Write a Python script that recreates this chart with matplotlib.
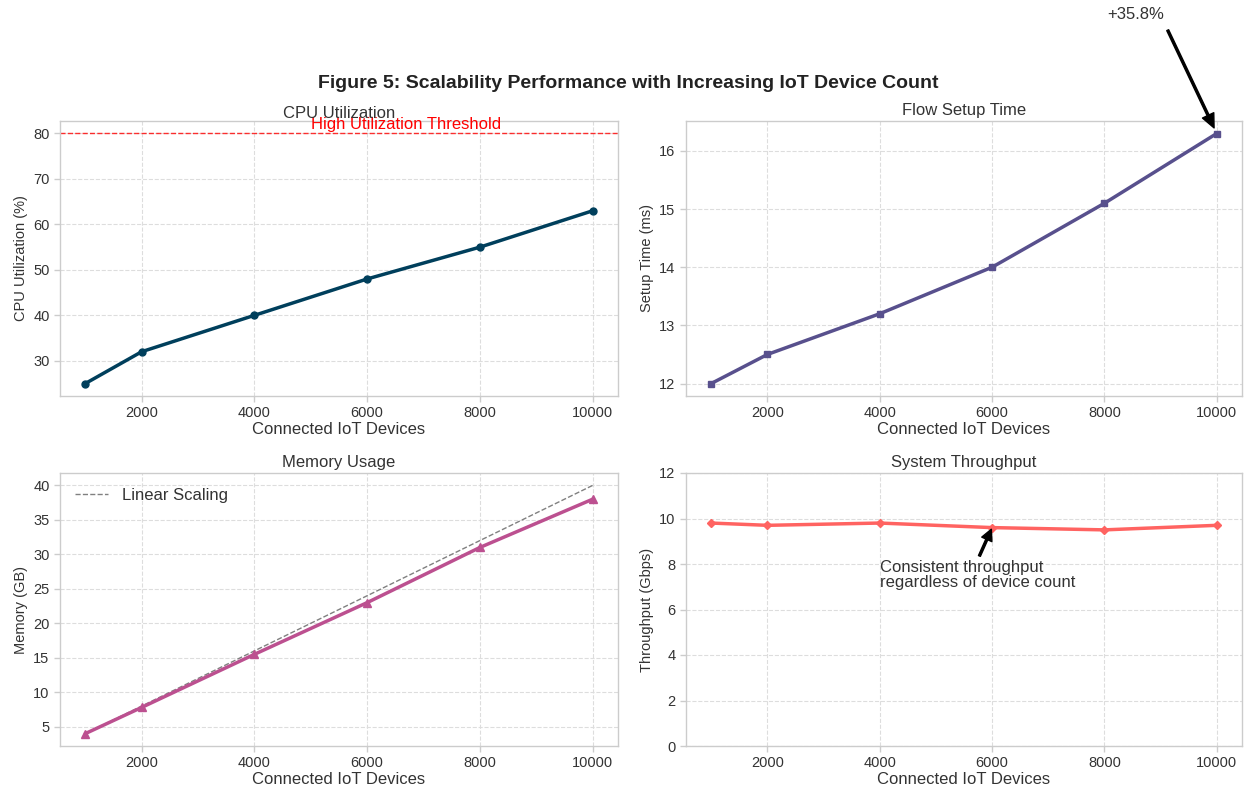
import matplotlib
matplotlib.use("Agg")
import matplotlib.pyplot as plt
import numpy as np

plt.style.use("seaborn-v0_8-whitegrid")
plt.rcParams['font.family'] = ['Liberation Sans', 'DejaVu Sans']

devices = [1000, 2000, 4000, 6000, 8000, 10000]
cpu_util = [25, 32, 40, 48, 55, 63]
setup_time = [12.0, 12.5, 13.2, 14.0, 15.1, 16.3]
memory_gb = [4, 7.8, 15.5, 23, 31, 38]
linear_mem = [4, 8, 16, 24, 32, 40]
throughput = [9.8, 9.7, 9.8, 9.6, 9.5, 9.7]

colors = ['#003f5c', '#58508d', '#bc5090', '#ff6361']
text_c = '#333333'

fig = plt.figure(figsize=(12.47, 7.85), dpi=100)
W, H = 1247, 785


def make_ax(l, t, r, b):
    return fig.add_axes([l / W, 1 - b / H, (r - l) / W, (b - t) / H])


ax1 = make_ax(60, 121, 618, 396)
ax2 = make_ax(686, 121, 1242, 396)
ax3 = make_ax(60, 473, 618, 746)
ax4 = make_ax(686, 473, 1242, 746)

for ax in [ax1, ax2, ax3, ax4]:
    ax.grid(True, linestyle='--', color='#dddddd', linewidth=0.8)
    for s in ax.spines.values():
        s.set_visible(True)
        s.set_color('#cccccc')
        s.set_linewidth(1.0)
    ax.tick_params(axis='both', labelsize=10.5, colors='#cccccc', labelcolor=text_c,
                   length=4, width=1, direction='out', left=True, bottom=True)
    ax.set_xlabel('Connected IoT Devices', fontsize=12, color=text_c, labelpad=1)
    ax.set_xticks([2000, 4000, 6000, 8000, 10000])

# CPU
ax1.plot(devices, cpu_util, marker='o', color=colors[0], linewidth=2.5, markersize=5)
ax1.axhline(80, color='red', linestyle='--', linewidth=1, alpha=0.8)
ax1.text(5000, 81, 'High Utilization Threshold', color='red', fontsize=12)
ax1.set_title('CPU Utilization', fontsize=12, color=text_c, pad=1)
ax1.set_ylabel('CPU Utilization (%)', fontsize=10.5, color=text_c, labelpad=4)

# Setup time
ax2.plot(devices, setup_time, marker='s', color=colors[1], linewidth=2.5, markersize=5)
ax2.set_title('Flow Setup Time', fontsize=12, color=text_c, pad=4)
ax2.set_ylabel('Setup Time (ms)', fontsize=10.5, color=text_c, labelpad=4)
pct = (setup_time[-1] / setup_time[0] - 1) * 100
ax2.annotate(f'+{pct:.1f}%', xy=(devices[-1], setup_time[-1]), xytext=(8550, 18.35),
             ha='center', va='center', fontsize=12, color=text_c, annotation_clip=False,
             arrowprops=dict(facecolor='black', edgecolor='black', width=1.5,
                             headwidth=9, headlength=10, shrink=0.05))

# Memory
ax3.plot(devices, linear_mem, linestyle='--', color='gray', linewidth=1, label='Linear Scaling')
ax3.plot(devices, memory_gb, marker='^', color=colors[2], linewidth=2.5, markersize=6)
ax3.set_title('Memory Usage', fontsize=12, color=text_c, pad=4)
ax3.set_ylabel('Memory (GB)', fontsize=10.5, color=text_c, labelpad=4)
ax3.legend(loc='upper left', fontsize=12, frameon=False, labelcolor=text_c)

# Throughput
ax4.plot(devices, throughput, marker='D', color=colors[3], linewidth=2.5, markersize=4.5)
ax4.set_ylim(0, 12)
ax4.set_title('System Throughput', fontsize=12, color=text_c, pad=4)
ax4.set_ylabel('Throughput (Gbps)', fontsize=10.5, color=text_c, labelpad=4)
ax4.annotate('Consistent throughput\nregardless of device count', xy=(6000, 9.6),
             xytext=(4000, 7.5), ha='left', va='center', fontsize=12, color=text_c,
             linespacing=1.0,
             arrowprops=dict(facecolor='black', edgecolor='black', width=1.5,
                             headwidth=8, headlength=8, shrink=0.05))

fig.text(628 / W, 1 - 83 / H, 'Figure 5: Scalability Performance with Increasing IoT Device Count',
         ha='center', va='center', fontsize=14, fontweight='bold', color='#222222')

fig.savefig('out.png', dpi=100, facecolor='white')
